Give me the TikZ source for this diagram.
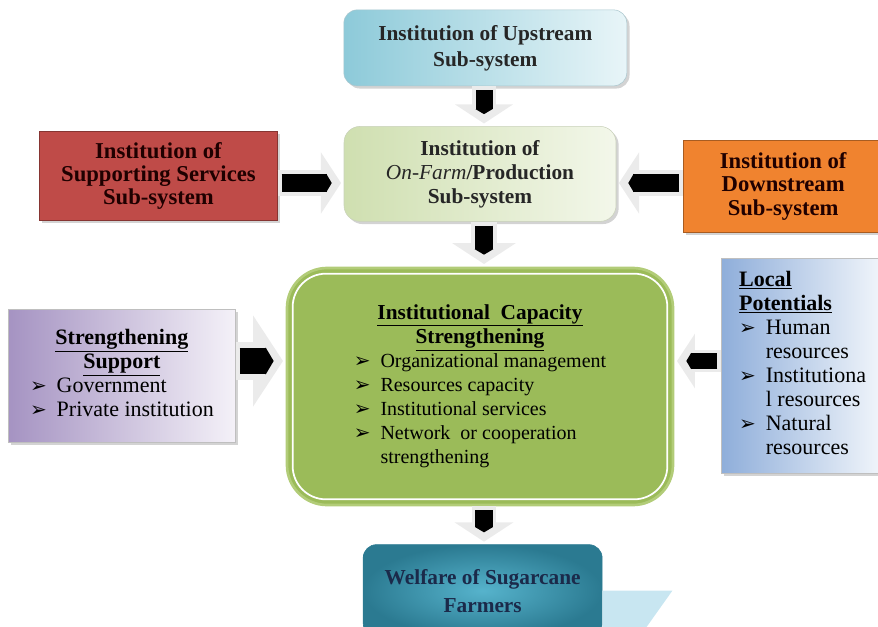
\documentclass[tikz,border=0pt]{standalone}
\usepackage{fontspec}
\setmainfont{Liberation Serif}
\newfontfamily\arrowfont{DejaVu Sans}
\usetikzlibrary{arrows.meta,positioning,shadows}

\definecolor{upA}{HTML}{8DCAD9}
\definecolor{upB}{HTML}{E8F5F8}
\definecolor{farmA}{HTML}{CFDFB0}
\definecolor{farmB}{HTML}{F3F7EA}
\definecolor{suppA}{HTML}{BF4B48}
\definecolor{suppB}{HTML}{E7A3A1}
\definecolor{downA}{HTML}{F0832F}
\definecolor{downB}{HTML}{FBC49A}
\definecolor{mainG}{HTML}{9BBB59}
\definecolor{mainE}{HTML}{B2CC78}
\definecolor{strA}{HTML}{A593C2}
\definecolor{strB}{HTML}{F4F1F8}
\definecolor{locA}{HTML}{8FAEDA}
\definecolor{locB}{HTML}{F2F6FB}
\definecolor{welA}{HTML}{56B3CC}
\definecolor{welB}{HTML}{2B7A91}
\definecolor{welS}{HTML}{C8E6F1}
\definecolor{welT}{HTML}{1B2A4A}

\newcommand\bul{\makebox[20pt][l]{\arrowfont\fontsize{15}{15}\selectfont ➢}}
\newcommand\cont{\hspace*{20pt}}

\begin{document}
\begin{tikzpicture}[x=0.75pt,y=-0.75pt,
    box/.style={inner sep=0pt, align=center, text=black!85,
      font=\bfseries\fontsize{16}{18}\selectfont},
    bigbox/.style={box, font=\bfseries\fontsize{17}{17.5}\selectfont},
    listbox/.style={inner sep=0pt, font=\fontsize{15}{18}\selectfont},
    sidebox/.style={listbox, draw=black!25, shade, font=\fontsize{16.5}{18}\selectfont},
    shade/.style={drop shadow={shadow xshift=2pt, shadow yshift=-2pt, opacity=.35}},
    flow/.style={line width=#1, draw=black, shorten <=3pt, shorten >=9pt,
      -{Triangle[length=0pt 0.3, width=0pt 1]},
      preaction={draw=black!8, line width=1.4*#1, shorten <=0pt, shorten >=2pt,
        -{Triangle[length=0pt 0.8, width=0pt 2.4]}}},
    flow/.default=13pt]

    \useasboundingbox (0,0) rectangle (878,626);

    % centre block
    \node[listbox, fill=mainG, draw=mainE, line width=2pt, rounded corners=30pt,
          minimum width=289.5pt, minimum height=177.75pt] (main) at (480,386.5)
      {\begin{tabular}{@{}l@{}}
        \multicolumn{1}{@{}c@{}}{\bfseries\fontsize{16}{18}\selectfont\underline{Institutional\ \ Capacity}}\\
        \multicolumn{1}{@{}c@{}}{\bfseries\fontsize{16}{18}\selectfont\underline{Strengthening}}\\
        \bul Organizational management\\
        \bul Resources capacity\\
        \bul Institutional services\\
        \bul Network\ \ or cooperation\\
        \cont strengthening
      \end{tabular}};
    \draw[white, line width=1.3pt, rounded corners=25pt]
      ([shift={(7,7)}]main.north west) rectangle ([shift={(-7,-7)}]main.south east);

    \node[box, left color=farmA, right color=farmB, draw=farmA!80!black!60,
          rounded corners=12pt, shade, minimum width=204pt, minimum height=71.25pt]
          (farm) [above=33.75pt of main]
      {Institution of\\{\normalfont\itshape On-Farm}/Production\\Sub-system};

    \node[box, left color=upA, right color=upB, draw=upA!80!black!60,
          rounded corners=10pt, shade, minimum width=212.25pt, minimum height=57pt,
          font=\bfseries\fontsize{16}{19.5}\selectfont]
          (up) [above=30pt of farm, xshift=4pt]
      {Institution of Upstream\\Sub-system};

    \node[bigbox, top color=suppA, middle color=suppB, bottom color=suppA,
          draw=suppA!70!black, shade, text=black!80!red!60!black,
          minimum width=178.5pt, minimum height=66.75pt]
          (supp) [left=49.5pt of farm, yshift=-1.5pt]
      {Institution of\\Supporting Services\\Sub-system};

    \node[bigbox, top color=downA, middle color=downB, bottom color=downA,
          draw=downA!70!black, shade, text=black!75!red!50!black,
          minimum width=150pt, minimum height=69pt]
          (down) [right=50pt of farm, yshift=-9.4pt]
      {Institution of\\Downstream\\Sub-system};

    \node[sidebox, left color=strA, right color=strB,
          minimum width=170.25pt, minimum height=99.75pt]
          (strength) [left=37.5pt of main, yshift=8pt]
      {\begin{tabular}{@{}l@{}}
        \multicolumn{1}{@{}c@{}}{\bfseries\underline{Strengthening}}\\
        \multicolumn{1}{@{}c@{}}{\bfseries\underline{Support}}\\
        \bul Government\\
        \bul Private institution
      \end{tabular}};

    \node[sidebox, left color=locA, right color=locB,
          minimum width=121.5pt, minimum height=161.25pt]
          (local) [right=35.25pt of main, yshift=15.75pt]
      {\begin{tabular}{@{}l@{}}
        \bfseries\underline{Local}\\
        \bfseries\underline{Potentials}\\
        \bul Human\\
        \cont resources\\
        \bul Institutiona\\
        \cont l resources\\
        \bul Natural\\
        \cont resources
      \end{tabular}};

    \node[box, inner color=welA, outer color=welB, draw=welB, text=welT,
          rounded corners=10pt, minimum width=179.25pt, minimum height=69pt,
          font=\bfseries\fontsize{16}{21}\selectfont]
          (welfare) [below=28.5pt of main, xshift=2pt]
      {Welfare of Sugarcane\\Farmers};
    \fill[welS] (welfare.east) -- ++(70,0) -- ++(-32,45) -- (welfare.south east) -- cycle;

    % flows
    \coordinate (axis) at (484,0);
    \coordinate (level) at (0,183);
    \coordinate (mid) at (0,361);
    \draw[flow=12.75pt] (up.south -| axis) -- (farm.north -| axis);
    \draw[flow=14pt] (farm.south -| axis) -- (main.north -| axis);
    \draw[flow=13pt] (main.south -| axis) -- (welfare.north -| axis);
    \draw[flow=13.5pt] (supp.east |- level) -- (farm.west |- level);
    \draw[flow=13.5pt] (down.west |- level) -- (farm.east |- level);
    \draw[flow=20pt] (strength.east |- mid) -- (main.west |- mid);
    \draw[flow=12pt] (local.west |- mid) -- (main.east |- mid);

\end{tikzpicture}
\end{document}
